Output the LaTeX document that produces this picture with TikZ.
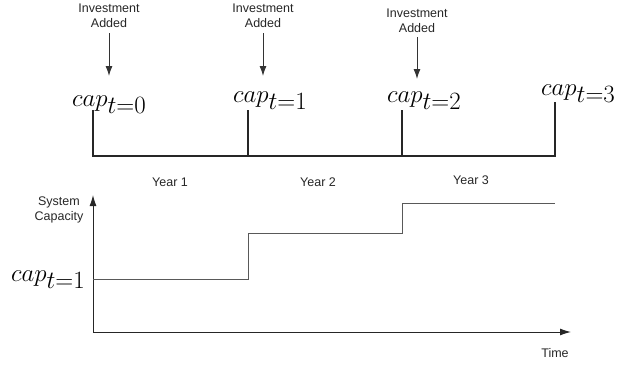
\documentclass[tikz,border=0pt]{standalone}
\usepackage{fontspec}
\setsansfont{Liberation Sans}
\usetikzlibrary{arrows.meta}
\begin{document}
\begin{tikzpicture}[x=1pt,y=-1pt,
  lbl/.style={font=\sffamily\fontsize{12.5}{15.5}\selectfont, align=center, text=black!85, inner sep=0pt},
  caplbl/.style={font=\fontsize{33}{33}\selectfont, inner sep=0pt, anchor=base west},
  invarrow/.style={draw=black!80, line width=1pt, -{Latex[length=10pt,width=7pt]}},
  timeline/.style={line width=2pt, draw=black!85},
  axis/.style={line width=1pt, draw=black!85, -{Latex[length=11pt,width=7pt]}},
  stepline/.style={line width=1pt, draw=black!65}]
\useasboundingbox (0,0) rectangle (619,368);

% investment labels
\node[lbl] (inv0) at (109,16) {Investment\\Added};
\node[lbl] (inv1) at (263,16) {Investment\\Added};
\node[lbl] (inv2) at (417,21) {Investment\\Added};
\coordinate (a0) at (109,76);
\coordinate (a1) at (263,76);
\coordinate (a2) at (417,79);
\draw[invarrow] (inv0.south |- 0,33) -- (a0);
\draw[invarrow] (inv1.south |- 0,33) -- (a1);
\draw[invarrow] (inv2.south |- 0,37) -- (a2);

% cap labels
\node[caplbl] (c0) at (72,106) {$cap_{t=0}$};
\node[caplbl] (c1) at (233,102) {$cap_{t=1}$};
\node[caplbl] (c2) at (387,102) {$cap_{t=2}$};
\node[caplbl] (c3) at (541,95) {$cap_{t=3}$};

% timeline
\coordinate (t0) at (93,110);
\coordinate (t1) at (248,110);
\coordinate (t2) at (402,110);
\coordinate (t3) at (555,102);
\coordinate (b0) at (93,156);
\coordinate (b1) at (248,156);
\coordinate (b2) at (402,156);
\coordinate (b3) at (555,156);
\draw[timeline] (t0) -- (b0) -- (b3) -- (t3);
\draw[timeline] (t1) -- (b1);
\draw[timeline] (t2) -- (b2);

\node[lbl] (y1) at (170,182) {Year 1};
\node[lbl] (y2) at (318,182) {Year 2};
\node[lbl] (y3) at (471,180) {Year 3};

% lower chart
\coordinate (o) at (93,332);
\coordinate (ytip) at (93,195);
\coordinate (xtip) at (571,332);
\draw[axis] (o) -- (ytip);
\draw[axis] (o) -- (xtip);
\node[lbl] (sc) at (59,210) {System\\Capacity};
\node[lbl] (time) at (555,353) {Time};
\node[caplbl] (cl) at (11,281) {$cap_{t=1}$};

\coordinate (s0) at (93,279);
\coordinate (s1) at (248,279);
\coordinate (s2) at (248,233);
\coordinate (s3) at (402,233);
\coordinate (s4) at (402,203);
\coordinate (s5) at (555,203);
\draw[stepline] (s0) -- (s1) -- (s2) -- (s3) -- (s4) -- (s5);
\end{tikzpicture}
\end{document}
